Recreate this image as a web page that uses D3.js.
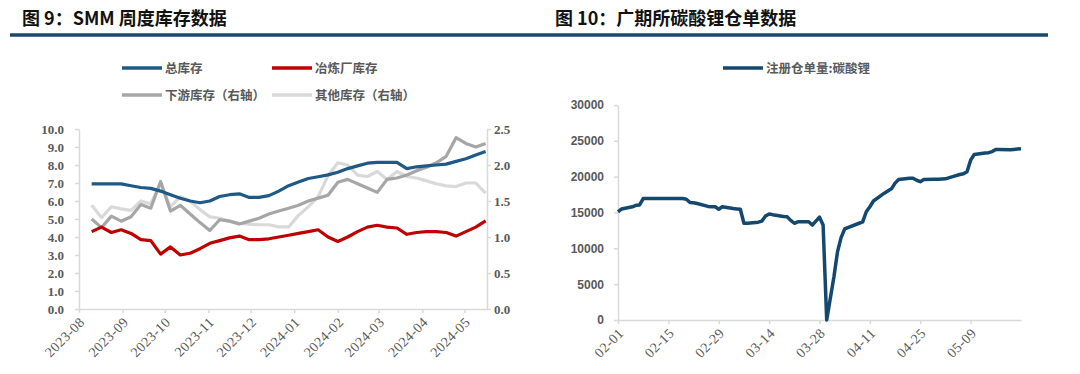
<!DOCTYPE html>
<html>
<head>
<meta charset="utf-8">
<script src="https://cdn.jsdelivr.net/npm/d3@7"></script>
<style>
  body { margin: 0; background: #fff; }
  svg { display: block; }
  .tick text { fill: #595959; }
</style>
</head>
<body>
<svg id="chart" width="1080" height="374"></svg>
<script>
// ---- left chart data: SMM weekly inventory (weekly, Thursdays) ----
var weekStart = "2023-08-10";
var totalInv = [6.95, 6.95, 6.95, 6.95, 6.85, 6.75, 6.7, 6.55, 6.35, 6.15,
  6.0, 5.9, 6.0, 6.25, 6.35, 6.4, 6.2, 6.2, 6.3, 6.55,
  6.85, 7.05, 7.25, 7.35, 7.45, 7.6, 7.8, 7.95, 8.1, 8.15,
  8.15, 8.15, 7.8, 7.9, 7.95, 8.0, 8.05, 8.2, 8.35, 8.55, 8.75];
var smelterInv = [4.3, 4.55, 4.25, 4.4, 4.2, 3.85, 3.8, 3.05, 3.45, 3.0,
  3.1, 3.35, 3.65, 3.8, 3.95, 4.05, 3.85, 3.85, 3.9, 4.0,
  4.1, 4.2, 4.3, 4.4, 4.0, 3.75, 4.0, 4.3, 4.55, 4.65,
  4.55, 4.5, 4.15, 4.25, 4.3, 4.3, 4.25, 4.05, 4.3, 4.55, 4.9];
var downstreamInv = [1.25, 1.13, 1.29, 1.22, 1.28, 1.45, 1.4, 1.77, 1.36, 1.44,
  1.32, 1.2, 1.09, 1.24, 1.22, 1.18, 1.22, 1.26, 1.32, 1.36,
  1.4, 1.44, 1.5, 1.54, 1.58, 1.76, 1.8, 1.74, 1.68, 1.62,
  1.8, 1.82, 1.86, 1.92, 1.97, 2.03, 2.12, 2.38, 2.3, 2.25, 2.3];
var otherInv = [1.44, 1.27, 1.42, 1.39, 1.37, 1.5, 1.46, 1.75, 1.42, 1.56,
  1.5, 1.38, 1.28, 1.26, 1.22, 1.19, 1.18, 1.17, 1.17, 1.14,
  1.14, 1.3, 1.42, 1.56, 1.85, 2.03, 2.0, 1.86, 1.84, 1.91,
  1.8, 1.91, 1.84, 1.82, 1.78, 1.74, 1.71, 1.7, 1.75, 1.75, 1.61];
var leftLegend = ["总库存", "冶炼厂库存", "下游库存（右轴）", "其他库存（右轴）"];

// ---- right chart data: GFEX lithium carbonate warrants ----
var warrantDates = ["02-01","02-02","02-05","02-06","02-07","02-08","02-19","02-20","02-21","02-22",
  "02-23","02-26","02-27","02-28","02-29","03-01","03-04","03-05","03-06","03-07",
  "03-08","03-11","03-12","03-13","03-14","03-15","03-18","03-19","03-20","03-21",
  "03-22","03-25","03-26","03-27","03-28","03-29","03-30","04-01","04-02","04-03",
  "04-04","04-08","04-09","04-10","04-11","04-12","04-15","04-16","04-17","04-18",
  "04-19","04-22","04-23","04-24","04-25","04-26","04-29","04-30","05-02","05-04",
  "05-06","05-07","05-08","05-09","05-10","05-13","05-14","05-15","05-16","05-17",
  "05-20","05-21","05-22","05-23"];
var warrantValues = [15100, 15500, 15800, 16000, 16050, 16950, 16950, 16850, 16400, 16350,
  16250, 15850, 15800, 15800, 15450, 15800, 15550, 15500, 15450, 13500,
  13500, 13650, 13800, 14500, 14800, 14700, 14450, 14400, 13900, 13500,
  13700, 13700, 13250, 13800, 14350, 13250, 0, 6000, 9500, 11500,
  12700, 13500, 13700, 15100, 15800, 16600, 17700, 18000, 18300, 19100,
  19600, 19770, 19770, 19500, 19300, 19600, 19630, 19630, 19700, 20000,
  20300, 20400, 20700, 22300, 23100, 23300, 23350, 23500, 23800, 23800,
  23750, 23800, 23850, 23900];
var rightTicks = ["02-01","02-15","02-29","03-14","03-28","04-11","04-25","05-09"];
var rightLegend = ["注册仓单量:碳酸锂"];

var svg = d3.select("#chart");
var cjk = "'Noto Sans CJK SC', sans-serif";
var serif = "'Liberation Serif', 'DejaVu Serif', serif";
var axisGray = "#d9d9d9";

// titles and header rule
svg.append("text").attr("x", 22).attr("y", 25)
  .style("font-family", cjk).style("font-size", "18px").style("font-weight", 700)
  .attr("fill", "#111").text("图 9：SMM 周度库存数据");
svg.append("text").attr("x", 555).attr("y", 25)
  .style("font-family", cjk).style("font-size", "18px").style("font-weight", 700)
  .attr("fill", "#111").text("图 10：广期所碳酸锂仓单数据");
svg.append("line").attr("x1", 10).attr("x2", 1048).attr("y1", 35).attr("y2", 35)
  .attr("stroke", "#18496f").attr("stroke-width", 3.5);

// ================= left chart =================
var parse = d3.timeParse("%Y-%m-%d");
var t0 = parse(weekStart);
var weeks = totalInv.map(function(d, i) { return d3.timeDay.offset(t0, i * 7); });

var x = d3.scaleTime()
  .domain([parse("2023-08-01"), parse("2024-05-17")])
  .range([79, 487]);
var yL = d3.scaleLinear().domain([0, 10]).range([309, 129]);
var yR = d3.scaleLinear().domain([0, 2.5]).range([309, 129]);

function styleAxis(g, font, size, weight) {
  g.select(".domain").attr("stroke", axisGray).attr("stroke-width", 1.5);
  g.selectAll(".tick line").attr("stroke", axisGray).attr("stroke-width", 1.5);
  g.selectAll(".tick text").style("font-family", font).style("font-size", size)
    .style("font-weight", weight);
}

// rotated date labels, end of text just below-right of the tick
function rotateLabels(g) {
  g.selectAll(".tick text")
    .attr("text-anchor", "end")
    .attr("x", 0).attr("y", 0).attr("dx", 0).attr("dy", 0)
    .style("letter-spacing", "0.4px")
    .attr("transform", "translate(6,14) rotate(-45)");
}

var gxL = svg.append("g").attr("transform", "translate(0,309)")
  .call(d3.axisBottom(x).ticks(d3.timeMonth.every(1)).tickFormat(d3.timeFormat("%Y-%m"))
    .tickSize(4).tickSizeOuter(0));
styleAxis(gxL, serif, "14px", 400);
rotateLabels(gxL);

var gyL = svg.append("g").attr("transform", "translate(79,0)")
  .call(d3.axisLeft(yL).ticks(10).tickFormat(d3.format(".1f")).tickSize(4).tickSizeOuter(0));
styleAxis(gyL, serif, "13px", 700);
gyL.selectAll(".tick text").attr("x", -15);

var gyR = svg.append("g").attr("transform", "translate(487,0)")
  .call(d3.axisRight(yR).tickValues([0, 0.5, 1, 1.5, 2, 2.5]).tickSize(4).tickSizeOuter(0));
styleAxis(gyR, serif, "13px", 700);
gyR.selectAll(".tick text").attr("x", 7);

var leftSeries = [
  { vals: otherInv, y: yR, color: "#d9d9d9" },
  { vals: downstreamInv, y: yR, color: "#a6a6a6" },
  { vals: smelterInv, y: yL, color: "#c00000" },
  { vals: totalInv, y: yL, color: "#1f5a87" }
];
leftSeries.forEach(function(s) {
  var line = d3.line()
    .x(function(d, i) { return x(weeks[i]); })
    .y(function(d) { return s.y(d); });
  svg.append("path").datum(s.vals)
    .attr("d", line).attr("fill", "none")
    .attr("stroke", s.color).attr("stroke-width", 3.2)
    .attr("stroke-linejoin", "round");
});

// left legend
var legL = [
  { name: leftLegend[0], color: "#1f5a87", x: 122, y: 68 },
  { name: leftLegend[1], color: "#c00000", x: 272, y: 68 },
  { name: leftLegend[2], color: "#a6a6a6", x: 122, y: 95 },
  { name: leftLegend[3], color: "#d9d9d9", x: 272, y: 95 }
];
legL.forEach(function(l) {
  svg.append("line").attr("x1", l.x).attr("x2", l.x + 40).attr("y1", l.y).attr("y2", l.y)
    .attr("stroke", l.color).attr("stroke-width", 3.5);
  svg.append("text").attr("x", l.x + 43).attr("y", l.y + 4.5)
    .style("font-family", cjk).style("font-size", "12.5px").style("font-weight", 700)
    .attr("fill", "#595959").text(l.name);
});

// ================= right chart =================
var parseMD = function(s) { return parse("2024-" + s); };
var x2 = d3.scaleTime()
  .domain([parseMD("02-01"), parseMD("05-23")])
  .range([618, 1021]);
var y2 = d3.scaleLinear().domain([0, 30000]).range([320, 105]);

var gx2 = svg.append("g").attr("transform", "translate(0,320)")
  .call(d3.axisBottom(x2).tickValues(rightTicks.map(parseMD))
    .tickFormat(d3.timeFormat("%m-%d")).tickSize(4).tickSizeOuter(0));
styleAxis(gx2, serif, "14px", 400);
rotateLabels(gx2);

var gy2 = svg.append("g").attr("transform", "translate(618,0)")
  .call(d3.axisLeft(y2).tickValues(d3.range(0, 30001, 5000)).tickFormat(d3.format("d"))
    .tickSize(4).tickSizeOuter(0));
styleAxis(gy2, "'Liberation Sans', Arial, sans-serif", "12px", 700);
gy2.selectAll(".tick text").attr("x", -14);

var line2 = d3.line()
  .x(function(d, i) { return x2(parseMD(warrantDates[i])); })
  .y(function(d) { return y2(d); });
svg.append("path").datum(warrantValues)
  .attr("d", line2).attr("fill", "none")
  .attr("stroke", "#14486f").attr("stroke-width", 3.5)
  .attr("stroke-linejoin", "round");

// right legend
svg.append("line").attr("x1", 723).attr("x2", 763).attr("y1", 68).attr("y2", 68)
  .attr("stroke", "#14486f").attr("stroke-width", 3.5);
svg.append("text").attr("x", 766).attr("y", 72.5)
  .style("font-family", cjk).style("font-size", "12.5px").style("font-weight", 700)
  .attr("fill", "#595959").text(rightLegend[0]);
</script>
</body>
</html>
